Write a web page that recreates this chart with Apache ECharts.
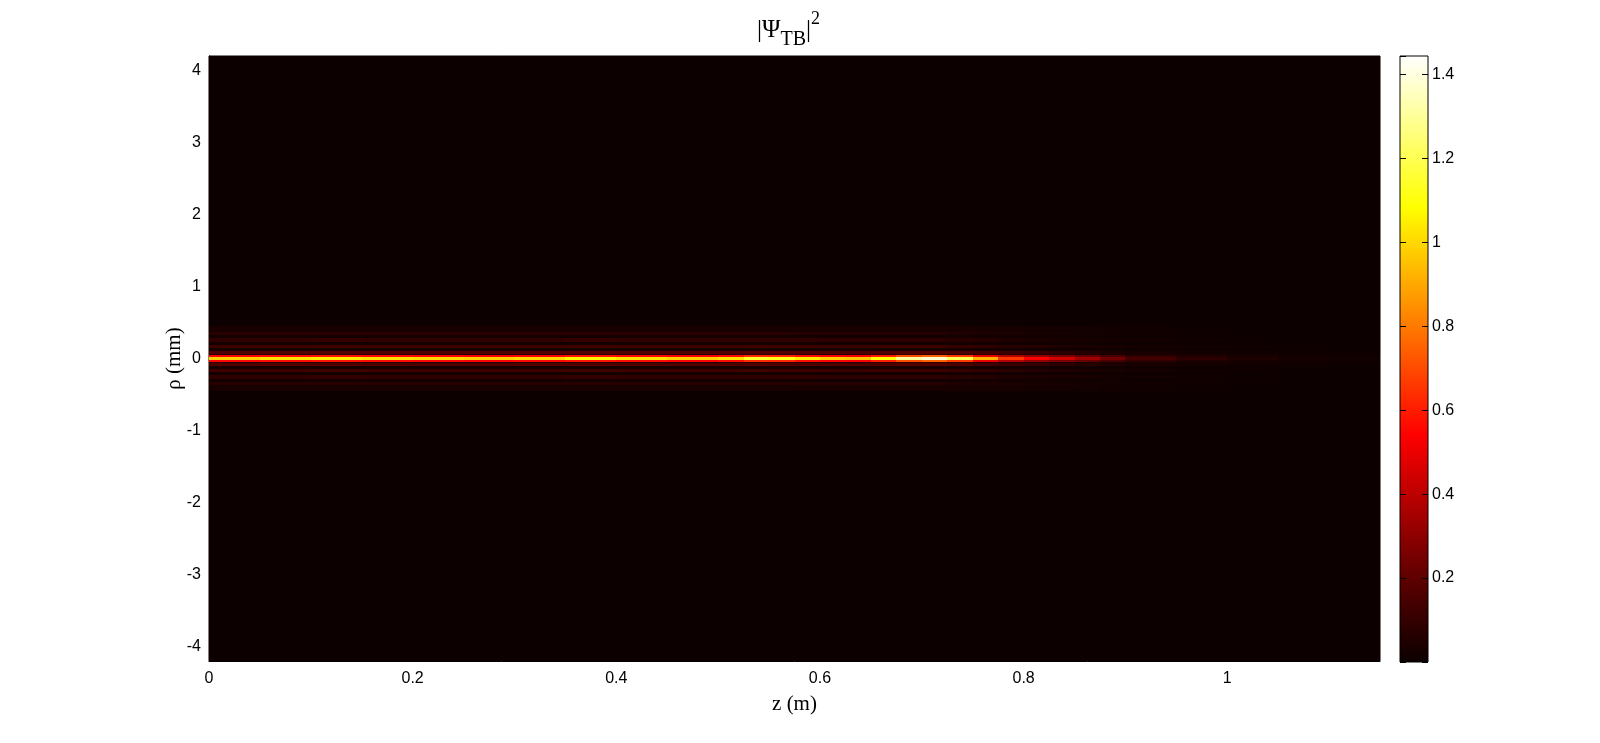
<!DOCTYPE html>
<html>
<head>
<meta charset="utf-8">
<script src="https://cdn.jsdelivr.net/npm/echarts@6/dist/echarts.min.js"></script>
<style>
  html, body { margin: 0; padding: 0; background: #fff; }
  #chart { width: 1600px; height: 743px; }
</style>
</head>
<body>
<div id="chart"></div>
<script>
// z column edges (m)
const zEdges = [0, 0.05, 0.1, 0.15, 0.2, 0.25, 0.3, 0.35, 0.4, 0.45, 0.5,
  0.525, 0.55, 0.575, 0.6, 0.625, 0.65, 0.675, 0.7, 0.725, 0.75, 0.775, 0.8,
  0.825, 0.85, 0.875, 0.9, 0.95, 1.0, 1.05, 1.1, 1.15];

// |rho| band edges (mm), drawn on both sides of the axis
const rhoEdges = [0, 0.025, 0.045, 0.062, 0.1, 0.145, 0.19, 0.235, 0.28, 0.325, 0.37, 0.45, 4.2];

// |Psi_TB|^2 per band, one value per z column
const core = [0.98, 1.02, 1.04, 1.02, 1.0, 0.98, 1.0, 1.06, 1.02, 0.98, 1.02, 1.15, 1.12, 1.04, 0.98, 0.96,
  1.1, 1.3, 1.38, 1.2, 0.92, 0.66, 0.54, 0.44, 0.34, 0.24, 0.14, 0.08, 0.045, 0.025, 0.015];
const shoulder = [0.55, 0.56, 0.58, 0.56, 0.55, 0.54, 0.55, 0.58, 0.56, 0.54, 0.56, 0.63, 0.62, 0.57, 0.54, 0.53,
  0.6, 0.7, 0.75, 0.66, 0.5, 0.38, 0.31, 0.26, 0.21, 0.15, 0.09, 0.05, 0.03, 0.018, 0.012];
const gap1 = [0.06, 0.06, 0.07, 0.06, 0.06, 0.06, 0.06, 0.07, 0.06, 0.06, 0.06, 0.07, 0.07, 0.06, 0.06, 0.06,
  0.07, 0.08, 0.08, 0.07, 0.06, 0.06, 0.05, 0.05, 0.04, 0.03, 0.025, 0.02, 0.015, 0.012, 0.01];
const ring1 = [0.17, 0.18, 0.18, 0.17, 0.17, 0.17, 0.18, 0.18, 0.17, 0.17, 0.17, 0.18, 0.18, 0.17, 0.17, 0.16,
  0.17, 0.18, 0.18, 0.16, 0.14, 0.12, 0.1, 0.08, 0.06, 0.05, 0.035, 0.025, 0.018, 0.012, 0.01];
const gap2 = [0.03, 0.03, 0.03, 0.03, 0.03, 0.03, 0.03, 0.03, 0.03, 0.03, 0.03, 0.03, 0.03, 0.03, 0.03, 0.03,
  0.03, 0.03, 0.03, 0.03, 0.025, 0.022, 0.02, 0.018, 0.016, 0.014, 0.012, 0.01, 0.008, 0.006, 0.005];
const ring2 = [0.12, 0.12, 0.13, 0.12, 0.12, 0.12, 0.12, 0.13, 0.12, 0.12, 0.12, 0.13, 0.12, 0.12, 0.11, 0.11,
  0.12, 0.12, 0.12, 0.1, 0.09, 0.07, 0.06, 0.05, 0.04, 0.03, 0.025, 0.018, 0.012, 0.008, 0.005];
const gap3 = [0.025, 0.025, 0.025, 0.025, 0.025, 0.025, 0.025, 0.025, 0.025, 0.025, 0.025, 0.025, 0.025, 0.025, 0.025, 0.025,
  0.025, 0.025, 0.025, 0.025, 0.022, 0.02, 0.018, 0.016, 0.014, 0.012, 0.01, 0.008, 0.006, 0.005, 0.004];
const ring3 = [0.09, 0.09, 0.1, 0.09, 0.09, 0.09, 0.09, 0.1, 0.09, 0.09, 0.09, 0.09, 0.09, 0.09, 0.08, 0.08,
  0.08, 0.08, 0.08, 0.07, 0.06, 0.05, 0.04, 0.035, 0.03, 0.025, 0.02, 0.014, 0.01, 0.006, 0.004];
const gap4 = [0.02, 0.02, 0.02, 0.02, 0.02, 0.02, 0.02, 0.02, 0.02, 0.02, 0.02, 0.02, 0.02, 0.02, 0.02, 0.02,
  0.02, 0.02, 0.02, 0.02, 0.018, 0.017, 0.016, 0.015, 0.014, 0.012, 0.01, 0.008, 0.006, 0.004, 0.004];
const ring4 = [0.07, 0.07, 0.07, 0.07, 0.07, 0.07, 0.07, 0.07, 0.07, 0.07, 0.07, 0.07, 0.07, 0.06, 0.06, 0.06,
  0.06, 0.06, 0.06, 0.05, 0.045, 0.04, 0.035, 0.03, 0.025, 0.02, 0.016, 0.012, 0.008, 0.005, 0.004];
const faint = [0.035, 0.035, 0.035, 0.035, 0.035, 0.035, 0.035, 0.035, 0.035, 0.035, 0.035, 0.035, 0.035, 0.035, 0.035, 0.035,
  0.035, 0.035, 0.035, 0.035, 0.03, 0.028, 0.025, 0.022, 0.02, 0.016, 0.012, 0.008, 0.006, 0.004, 0.003];
const background = [0.003, 0.003, 0.003, 0.003, 0.003, 0.003, 0.003, 0.003, 0.003, 0.003, 0.003, 0.003, 0.003, 0.003, 0.003, 0.003,
  0.003, 0.003, 0.003, 0.003, 0.003, 0.003, 0.003, 0.003, 0.003, 0.003, 0.003, 0.003, 0.003, 0.003, 0.003];

const bands = [core, shoulder, gap1, ring1, gap2, ring2, gap3, ring3, gap4, ring4, faint, background];

const colorbarTicks = [0.2, 0.4, 0.6, 0.8, 1, 1.2, 1.4];

// MATLAB "hot" colormap stops
const hot = ['#0b0000', '#550000', '#aa0000', '#ff0000', '#ff5500', '#ffaa00', '#ffff00', '#ffff80', '#ffffff'];

const cells = [];
bands.forEach((row, b) => {
  row.forEach((v, i) => {
    cells.push([zEdges[i], zEdges[i + 1], rhoEdges[b], rhoEdges[b + 1], v]);
    cells.push([zEdges[i], zEdges[i + 1], -rhoEdges[b + 1], -rhoEdges[b], v]);
  });
});

var chart = echarts.init(document.getElementById('chart'));
var tickFont = { color: '#000', fontFamily: 'Liberation Sans', fontSize: 16 };
var serif = { fontFamily: 'Liberation Serif', fontWeight: 'normal', color: '#000' };
var colorbarFill = {
  type: 'linear', x: 0, y: 1, x2: 0, y2: 0,
  colorStops: hot.map((c, i) => ({ offset: i / (hot.length - 1), color: c })),
};
var option = {
  animation: false,
  backgroundColor: '#fff',
  title: {
    text: '{a||\u03A8}{s|TB}{a||}{p|2}',
    left: 757,
    top: 10,
    padding: 0,
    textStyle: {
      fontWeight: 'normal',
      rich: {
        a: Object.assign({ fontSize: 25, lineHeight: 40, verticalAlign: 'middle' }, serif),
        s: Object.assign({ fontSize: 20, lineHeight: 20, verticalAlign: 'bottom' }, serif),
        p: Object.assign({ fontSize: 18, lineHeight: 14, verticalAlign: 'top' }, serif),
      },
    },
  },
  grid: [
    { left: 209, top: 56, width: 1171, height: 605, show: true, borderColor: '#000', borderWidth: 1 },
    { left: 1400, top: 56, width: 28, height: 606, show: true, borderColor: '#000', borderWidth: 1, backgroundColor: colorbarFill, z: -1 },
  ],
  xAxis: [
    {
      type: 'value',
      gridIndex: 0,
      min: 0,
      max: 1.15,
      interval: 0.2,
      name: 'z (m)',
      nameLocation: 'middle',
      nameGap: 33,
      nameTextStyle: Object.assign({ fontSize: 21 }, serif),
      axisLine: { onZero: false, lineStyle: { color: '#000' } },
      axisTick: { inside: true, length: 5, lineStyle: { color: '#000' } },
      axisLabel: Object.assign({ margin: 10, showMaxLabel: false }, tickFont),
      splitLine: { show: false },
    },
    { type: 'value', gridIndex: 1, show: false, min: 0, max: 1, axisLine: { onZero: false } },
  ],
  yAxis: [
    {
      type: 'value',
      gridIndex: 0,
      min: -4.2,
      max: 4.2,
      splitNumber: 8,
      name: '\u03C1 (mm)',
      nameLocation: 'middle',
      nameGap: 24,
      nameMoveOverlap: false,
      nameTextStyle: Object.assign({ fontSize: 21 }, serif),
      axisLine: { onZero: false, lineStyle: { color: '#000' } },
      axisTick: { inside: true, length: 5, lineStyle: { color: '#000' } },
      axisLabel: Object.assign({
        margin: 8,
        showMinLabel: false,
        showMaxLabel: false,
        formatter: (v) => (Math.abs(v - Math.round(v)) < 1e-6 ? String(Math.round(v)) : ''),
      }, tickFont),
      splitLine: { show: false },
    },
    {
      type: 'value',
      gridIndex: 1,
      position: 'right',
      min: 0,
      max: 1.444,
      interval: 0.2,
      axisLine: { show: false, onZero: false },
      axisTick: { inside: true, length: 6, lineStyle: { color: '#000' } },
      axisLabel: Object.assign({
        margin: 4,
        showMaxLabel: false,
        formatter: (v) => (colorbarTicks.some((t) => Math.abs(t - v) < 1e-6) ? String(+v.toFixed(1)) : ''),
      }, tickFont),
      splitLine: { show: false },
      z: 5,
    },
    {
      type: 'value',
      gridIndex: 1,
      position: 'left',
      min: 0,
      max: 1.444,
      interval: 0.2,
      axisLine: { show: false, onZero: false },
      axisTick: { inside: true, length: 6, lineStyle: { color: '#000' } },
      axisLabel: { show: false },
      splitLine: { show: false },
      z: 5,
    },
  ],
  visualMap: {
    type: 'continuous',
    show: false,
    min: 0,
    max: 1.444,
    dimension: 4,
    seriesIndex: 0,
    inRange: { color: hot },
  },
  series: [
    {
      type: 'custom',
      xAxisIndex: 0,
      yAxisIndex: 0,
      encode: { x: [0, 1], y: [2, 3] },
      clip: true,
      data: cells,
      renderItem: function (params, api) {
        var p0 = api.coord([api.value(0), api.value(3)]);
        var p1 = api.coord([api.value(1), api.value(2)]);
        var x0 = Math.round(p0[0]), x1 = Math.round(p1[0]);
        var y0 = Math.round(p0[1]), y1 = Math.round(p1[1]);
        return {
          type: 'rect',
          shape: { x: x0, y: y0, width: x1 - x0, height: y1 - y0 },
          style: { fill: api.visual('color') },
        };
      },
    },
  ],
};
option && chart.setOption(option);
</script>
</body>
</html>
